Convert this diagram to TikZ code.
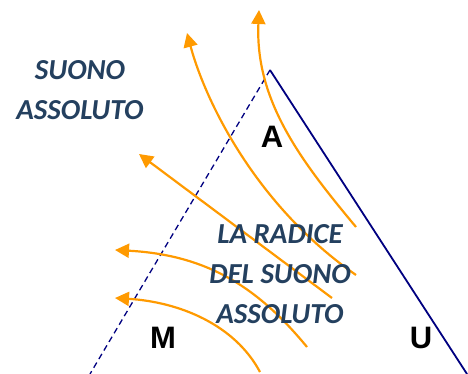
\documentclass[tikz,border=0pt]{standalone}
\usepackage{fontspec}
\setmainfont{Carlito}
\newfontfamily\letterfont{Liberation Sans}
\usepackage{xcolor}
\definecolor{FlowOrange}{HTML}{FF9A00}
\definecolor{WallNavy}{HTML}{000080}
\definecolor{TextSlate}{HTML}{24405F}
\usepackage{tikz}
\usetikzlibrary{arrows.meta}

\begin{document}
\begin{tikzpicture}[
x=1pt,y=-1pt,
flow/.style={-{Triangle[length=14pt,width=14pt]},line width=2.2pt,draw=FlowOrange},
wall/.style={line width=1.8pt,draw=WallNavy},
guide/.style={line width=1.3pt,dashed,dash pattern=on 6pt off 4pt,draw=WallNavy},
label/.style={align=center,text=TextSlate,font=\fontsize{29}{40}\selectfont\bfseries\itshape,inner sep=0pt},
letter/.style={text=black,font=\letterfont\fontsize{31}{34}\selectfont\bfseries,inner sep=0pt}
]
\useasboundingbox (0,0) rectangle (468,374);

\coordinate (apex) at (270,70);
\coordinate (mfoot) at (90,374);
\coordinate (ufoot) at (467,374);

\draw[guide] (apex) -- (mfoot);
\draw[wall] (apex) -- (ufoot);

\draw[flow] (356,227) .. controls (300,160) and (255,100) .. (259,10);
\draw[flow] (356,275) .. controls (255,205) and (205,100) .. (187,33);
\draw[flow] (332,298) -- (139,154);
\draw[flow] (307,347) .. controls (260,290) and (210,255) .. (115,250);
\draw[flow] (260,372) .. controls (235,325) and (180,302) .. (115,298);

\node[label] (absolute) at (80,90) {SUONO\\ASSOLUTO};
\node[label] (root) at (280,274) {LA RADICE\\DEL SUONO\\ASSOLUTO};

\node[letter] (a) at (272,137) {A};
\node[letter] (m) at (163,338) {M};
\node[letter] (u) at (421,338) {U};
\end{tikzpicture}
\end{document}
